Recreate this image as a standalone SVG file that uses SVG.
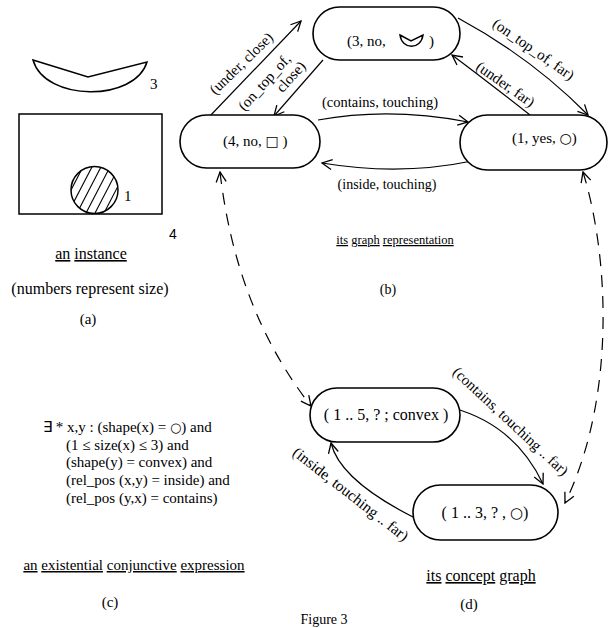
<svg xmlns="http://www.w3.org/2000/svg" width="610" height="628" viewBox="0 0 610 628">
<style>
text { font-family: "Liberation Serif", "Times New Roman", serif; font-size: 14px; fill: #000; }
.sym { font-family: "DejaVu Sans", sans-serif; font-size: 14px; }
.node { fill: #fff; stroke: #000; stroke-width: 1.6; }
.edge { fill: none; stroke: #000; stroke-width: 1.2; }
.dash { stroke-dasharray: 12 9; }
.u { text-decoration: underline; }
.shape { fill: none; stroke: #000; stroke-width: 1.5; }
.hatch { stroke: #000; stroke-width: 1.1; }
.big { font-size: 16px; }
.mid { font-size: 15px; }
</style>
<defs>
<marker id="arr" viewBox="0 0 12 12" refX="11" refY="6" markerWidth="12" markerHeight="12" markerUnits="userSpaceOnUse" orient="auto-start-reverse">
<path d="M1,1 L11,6 L1,11" fill="none" stroke="#000" stroke-width="1.3"/>
</marker>
<clipPath id="circ"><circle cx="94.5" cy="190" r="23.5"/></clipPath>
</defs>

<!-- (a) an instance -->
<g id="instance">
<path class="shape" d="M33,60 L88,77 L147,62 C135,102 45,102 33,60 Z"/>
<text x="150" y="89" class="mid">3</text>
<rect class="shape" x="19" y="114" width="143" height="100"/>
<g clip-path="url(#circ)">
<line class="hatch" x1="58" y1="215" x2="84" y2="165"/>
<line class="hatch" x1="67" y1="215" x2="93" y2="165"/>
<line class="hatch" x1="76" y1="215" x2="102" y2="165"/>
<line class="hatch" x1="85" y1="215" x2="111" y2="165"/>
<line class="hatch" x1="94" y1="215" x2="120" y2="165"/>
<line class="hatch" x1="103" y1="215" x2="129" y2="165"/>
<line class="hatch" x1="112" y1="215" x2="138" y2="165"/>
</g>
<circle class="shape" cx="94.5" cy="190" r="23.5"/>
<text x="124" y="201" class="mid">1</text>
<text x="169" y="239" style="font-family:'Liberation Sans',Arial,sans-serif;font-size:14px">4</text>
<text x="91" y="259" text-anchor="middle" class="big"><tspan class="u">an</tspan> <tspan class="u">instance</tspan></text>
<text x="90" y="294" text-anchor="middle" class="big">(numbers represent size)</text>
<text x="88" y="324" text-anchor="middle" class="mid">(a)</text>
</g>

<!-- connectors -->
<g id="connectors">
<path class="edge" d="M209,117 L301,21" marker-end="url(#arr)"/>
<path class="edge" d="M323,60 L274,116" marker-end="url(#arr)"/>
<path class="edge" d="M458,18 Q532,58 588,115" marker-end="url(#arr)"/>
<path class="edge" d="M530,115 Q488,82 452,55" marker-end="url(#arr)"/>
<path class="edge" d="M318,120 Q390,107 468,122" marker-end="url(#arr)"/>
<path class="edge" d="M472,161 Q400,176 322,163" marker-end="url(#arr)"/>
<path class="edge dash" d="M220,172 Q236,310 311,406" marker-start="url(#arr)" marker-end="url(#arr)"/>
<path class="edge dash" d="M583,172 C610,260 615,400 565,503" marker-start="url(#arr)" marker-end="url(#arr)"/>
<path class="edge" d="M453,408 Q515,425 543,484" marker-end="url(#arr)"/>
<path class="edge" d="M413,517 Q340,480 331,443" marker-end="url(#arr)"/>
</g>

<g id="edge-labels">
<text transform="translate(242,64) rotate(-44)" text-anchor="middle" y="4" class="mid">(under, close)</text>
<g transform="translate(265,83) rotate(-48)" class="mid">
<text text-anchor="middle" y="4" class="mid">(on_top_of,</text>
<text text-anchor="middle" x="22" y="20" class="mid">close)</text>
</g>
<text transform="translate(533,50) rotate(35)" text-anchor="middle" y="4" class="mid">(on_top_of, far)</text>
<text transform="translate(505,85) rotate(35)" text-anchor="middle" y="4" class="mid">(under, far)</text>
<text x="380" y="107" text-anchor="middle" style="font-size:14.5px">(contains, touching)</text>
<text x="387" y="189" text-anchor="middle">(inside, touching)</text>
<text transform="translate(510,422) rotate(43)" text-anchor="middle" y="4" class="mid">(contains, touching .. far)</text>
<text transform="translate(350,495) rotate(38)" text-anchor="middle" y="4" style="font-size:15.5px">(inside, touching .. far)</text>
</g>

<g id="node-3">
<rect class="node" x="313" y="7" width="147" height="53" rx="26.5"/>
<text x="347" y="46" class="mid">(3, no,</text>
<path class="shape" stroke-width="1.7" d="M400,35 L411,41 L423,35 C421,50 402,50 400,35 Z"/>
<text x="429" y="46" class="mid">)</text>
</g>
<g id="node-4">
<rect class="node" x="180" y="115" width="140" height="53" rx="26.5"/>
<text x="223" y="146" class="mid">(4, no, <tspan class="sym">□</tspan> )</text>
</g>
<g id="node-1">
<rect class="node" x="460" y="115" width="147" height="55" rx="27.5"/>
<text x="512" y="143" class="mid">(1, yes, <tspan class="sym">○</tspan>)</text>
</g>
<text x="395" y="244" text-anchor="middle" style="font-size:12.5px"><tspan class="u">its</tspan> <tspan class="u">graph</tspan> <tspan class="u">representation</tspan></text>
<text x="388" y="294" text-anchor="middle">(b)</text>

<!-- (c) expression -->
<g id="expression">
<text x="43" y="432" class="mid">∃ * x,y : (shape(x) = <tspan class="sym" style="font-size:13px">○</tspan>) and</text>
<text x="66" y="450" class="mid">(1 ≤ size(x) ≤ 3) and</text>
<text x="66" y="467" class="mid">(shape(y) = convex) and</text>
<text x="66" y="485" class="mid">(rel_pos (x,y) = inside) and</text>
<text x="66" y="503" class="mid">(rel_pos (y,x) = contains)</text>
<text x="134" y="570" text-anchor="middle" class="mid"><tspan class="u">an</tspan> <tspan class="u">existential</tspan> <tspan class="u">conjunctive</tspan> <tspan class="u">expression</tspan></text>
<text x="110" y="607" text-anchor="middle" class="mid">(c)</text>
</g>

<!-- (d) concept graph -->
<g id="node-convex">
<rect class="node" x="310" y="388" width="150" height="54" rx="27"/>
<text x="386" y="420" text-anchor="middle" class="big">( 1 .. 5, ? ; convex )</text>
</g>
<g id="node-circle">
<rect class="node" x="413" y="485" width="145" height="55" rx="27.5"/>
<text x="485" y="518" text-anchor="middle" class="big">( 1 .. 3, ? , <tspan class="sym" style="font-size:15px">○</tspan>)</text>
</g>
<text x="481" y="581" text-anchor="middle" class="big"><tspan class="u">its</tspan> <tspan class="u">concept</tspan> <tspan class="u">graph</tspan></text>
<text x="469" y="609" text-anchor="middle" class="mid">(d)</text>
<text x="324" y="624" text-anchor="middle">Figure 3</text>
</svg>
